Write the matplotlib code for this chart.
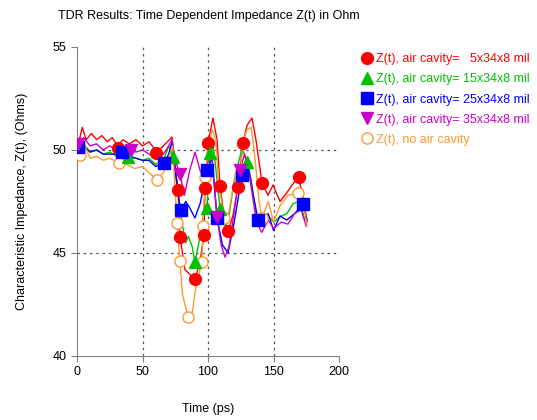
import matplotlib
matplotlib.use("Agg")
import matplotlib.pyplot as plt
from matplotlib.lines import Line2D

plt.rcParams["font.family"] = ["Liberation Sans", "DejaVu Sans"]

# --- series: line vertices (t in ps, Z in Ohm) ---
red_t = [0, 4, 7, 11, 15, 19, 23, 27, 31, 35, 40, 45, 50, 55, 61, 66, 72.5, 77.1, 78.6, 82.4,
         90.1, 93.9, 96.9, 97.7, 100, 103.8, 106.9, 109.2, 112.2, 115.3, 119, 122.9, 126.7,
         129.8, 133.6, 136.6, 141.2, 145.8, 149.6, 155, 161, 168.7, 172.5, 175.6]
red_z = [50.0, 51.1, 50.5, 50.8, 50.5, 50.7, 50.4, 50.6, 50.2, 50.5, 50.3, 50.5, 50.2, 50.4,
         49.9, 50.2, 50.63, 48.06, 45.78, 44.2, 43.7, 44.6, 45.87, 48.16, 50.34, 51.55, 50.5,
         48.25, 46.8, 46.07, 46.8, 48.2, 50.34, 51.2, 51.55, 50.5, 48.4, 47.8, 48.3, 47.5,
         48.0, 48.7, 47.8, 46.5]
red_mt = [31.3, 60.3, 77.1, 78.6, 90.1, 96.9, 97.7, 100, 109.2, 115.3, 122.9, 126.7, 141.2, 169.5]
red_mz = [50.1, 49.85, 48.06, 45.78, 43.74, 45.87, 48.16, 50.34, 48.25, 46.07, 48.2, 50.34, 48.4, 48.7]

green_t = [0, 5, 10, 15, 20, 25, 30, 35, 38.9, 45, 50, 55, 60, 66, 70, 73.3, 77, 80, 83, 85,
           88, 90.1, 93, 97, 99.2, 101.5, 104, 107, 109.2, 113, 116, 120, 126, 129.8, 133,
           137, 141, 145, 150, 156, 160, 165, 170, 174]
green_z = [50.0, 50.3, 49.9, 50.0, 49.8, 49.9, 49.7, 49.8, 49.66, 49.6, 49.5, 49.6, 49.3,
           49.5, 50.2, 49.66, 48.0, 46.5, 45.5, 45.8, 45.3, 44.56, 45.5, 47.0, 47.18, 49.85,
           50.2, 48.5, 47.14, 46.3, 46.8, 48.5, 50.1, 49.42, 48.5, 46.8, 46.5, 46.9, 46.5,
           46.8, 46.9, 47.4, 47.5, 46.6]
green_mt = [38.9, 73.3, 90.1, 99.2, 101.5, 109.2, 129.8]
green_mz = [49.66, 49.66, 44.56, 47.18, 49.85, 47.14, 49.42]

blue_t = [0, 5, 10, 15, 20, 25, 30, 34.4, 40, 45, 50, 55, 60, 66.4, 70, 72.5, 75, 78, 79.4,
          83, 86, 90, 94, 99.2, 103, 106.9, 111, 115.3, 120, 126, 130, 134, 138.2, 142, 146,
          150, 155, 160, 166, 172.5, 175.6]
blue_z = [50.1, 50.2, 49.9, 50.0, 49.8, 49.8, 49.8, 49.9, 49.7, 49.6, 49.5, 49.5, 49.2,
          49.37, 49.8, 50.4, 49.0, 47.5, 47.09, 47.5, 47.2, 46.7, 47.4, 49.03, 49.6, 46.7,
          45.4, 45.0, 46.5, 48.79, 49.5, 48.0, 46.6, 46.3, 46.9, 46.1, 46.8, 46.6, 46.9,
          47.38, 46.6]
blue_mt = [0.8, 34.4, 66.4, 79.4, 99.2, 106.9, 126.0, 138.2, 172.5]
blue_mz = [50.15, 49.9, 49.37, 47.09, 49.03, 46.7, 48.79, 46.6, 47.38]

mag_t = [0, 5, 10, 15, 20, 25, 30, 41.2, 45, 50, 55, 60, 66, 70, 72.5, 75, 78.6, 82, 86,
         90.1, 94, 96.2, 100, 103, 106.9, 110, 113, 116, 120, 124.4, 128, 132, 137, 141,
         146, 150, 156, 161, 166, 171, 175]
mag_z = [50.2, 50.6, 50.2, 50.3, 50.0, 50.2, 50.0, 50.0, 49.9, 50.0, 49.8, 49.6, 49.8, 50.2,
         50.5, 49.5, 48.83, 47.8, 49.0, 49.9, 49.0, 48.7, 49.5, 49.8, 46.75, 45.4, 44.8,
         45.3, 47.0, 49.04, 49.8, 48.6, 46.5, 46.0, 46.6, 46.2, 46.5, 46.4, 46.9, 47.1, 46.3]
mag_mt = [0.8, 41.2, 78.6, 106.9, 124.4]
mag_mz = [50.3, 50.0, 48.83, 46.75, 49.04]

org_t = [0, 2.3, 6, 10, 15, 20, 25, 32.1, 38, 44, 50, 55, 61.1, 66, 70, 73, 76.3, 78.6,
         80.5, 84.7, 88, 91, 95.4, 96.2, 97.7, 100, 103, 106, 108, 112.2, 116, 120, 124.4,
         127, 130, 133, 136, 139, 141.2, 146, 150, 155, 161, 168.7, 172, 175.6]
org_z = [49.8, 49.76, 50.2, 49.6, 49.7, 49.5, 49.6, 49.37, 49.3, 49.1, 49.2, 48.9, 48.54,
         48.9, 49.6, 50.2, 46.46, 44.6, 43.0, 41.9, 42.1, 43.5, 44.56, 46.31, 48.69, 50.0,
         51.0, 50.5, 48.5, 46.7, 47.0, 48.5, 48.79, 50.5, 51.0, 51.1, 49.5, 47.5, 46.7,
         47.5, 46.5, 47.3, 47.8, 47.92, 47.8, 46.3]
org_mt = [2.3, 32.1, 61.1, 76.3, 78.6, 84.7, 95.4, 96.2, 97.7, 112.2, 124.4, 141.2, 168.7]
org_mz = [49.76, 49.37, 48.54, 46.46, 44.6, 41.9, 44.56, 46.31, 48.69, 46.7, 48.79, 46.7, 47.92]

labels = ["Z(t), air cavity=   5x34x8 mil",
          "Z(t), air cavity= 15x34x8 mil",
          "Z(t), air cavity= 25x34x8 mil",
          "Z(t), air cavity= 35x34x8 mil",
          "Z(t), no air cavity"]
colors = ["#ff0000", "#00c000", "#0000ff", "#cc00cc", "#ff9933"]

fig = plt.figure(figsize=(5.37, 4.2), dpi=100)
ax = fig.add_axes([0.1434, 0.1524, 0.4879, 0.7357])

series = [
    (org_t, org_z, org_mt, org_mz, "o", 4),
    (mag_t, mag_z, mag_mt, mag_mz, "v", 3),
    (blue_t, blue_z, blue_mt, blue_mz, "s", 2),
    (green_t, green_z, green_mt, green_mz, "^", 1),
    (red_t, red_z, red_mt, red_mz, "o", 0),
]
for t, z, mt, mz, mk, i in series:
    c = colors[i]
    ax.plot(t, z, color=c, lw=1, zorder=2 + i * 0.1)
    if i == 4:
        ax.plot(mt, mz, ls="none", marker=mk, ms=8, mfc="white", mec=c, mew=1, zorder=3)
    else:
        ax.plot(mt, mz, ls="none", marker=mk, ms=8.5, color=c, zorder=3 + i * 0.1)

# dotted grid, only on inner ticks
for x in [50, 100, 150]:
    ax.axvline(x, color="#555555", lw=0.9, ls=(0, (2, 3)), zorder=1)
for y in [45, 50]:
    ax.axhline(y, color="#555555", lw=0.9, ls=(0, (2, 3)), zorder=1)

ax.set_xlim(0, 200)
ax.set_ylim(40, 55)
ax.set_xticks([0, 50, 100, 150, 200])
ax.set_yticks([40, 45, 50, 55])
for s in ["top", "right"]:
    ax.spines[s].set_visible(False)
for s in ["left", "bottom"]:
    ax.spines[s].set_color("#808080")
ax.tick_params(colors="#808080", labelcolor="black", labelsize=9, length=4)

ax.set_xlabel("Time (ps)", fontsize=9, labelpad=18)
ax.set_ylabel("Characteristic Impedance, Z(t), (Ohms)", fontsize=9, labelpad=18)
fig.text(0.108, 0.962, "TDR Results: Time Dependent Impedance Z(t) in Ohm", fontsize=9,
         va="center", ha="left")

markers = ["o", "^", "s", "v", "o"]
handles = []
for i in range(5):
    if i == 4:
        h = Line2D([], [], ls="none", marker="o", ms=8, mfc="white", mec=colors[i])
    else:
        h = Line2D([], [], ls="none", marker=markers[i], ms=8.5, color=colors[i])
    handles.append(h)
fig.legend(handles, labels, loc="upper left", bbox_to_anchor=(0.66, 0.885), frameon=False,
           fontsize=9, labelcolor=colors, handletextpad=0.1, handlelength=1.2,
           labelspacing=0.65, borderaxespad=0)

fig.savefig("out.png", dpi=100)
